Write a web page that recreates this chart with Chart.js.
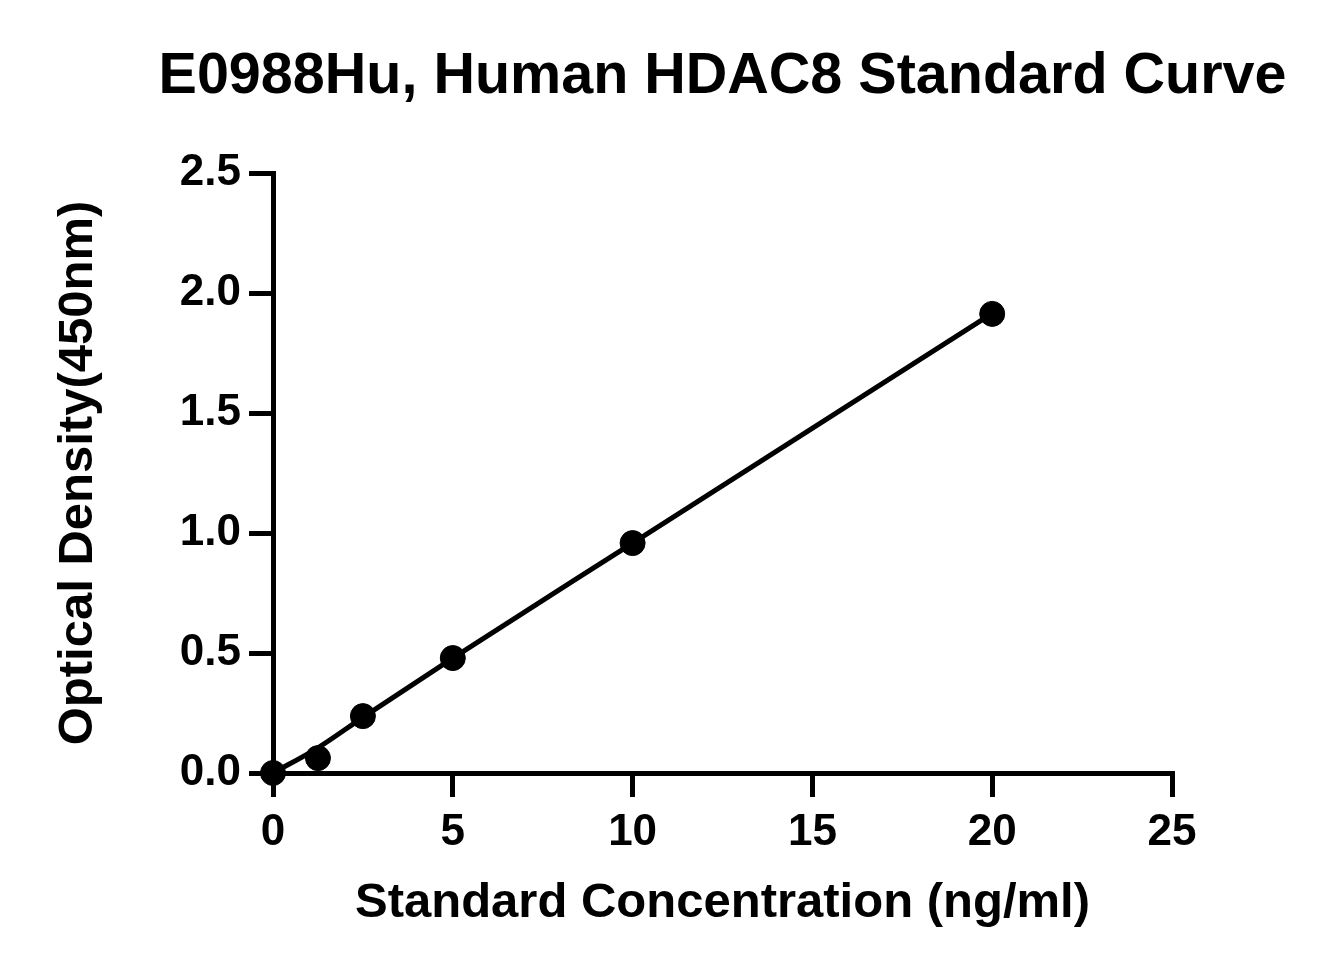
<!DOCTYPE html>
<html>
<head>
<meta charset="utf-8">
<script src="https://cdn.jsdelivr.net/npm/chart.js@4/dist/chart.umd.min.js"></script>
<style>
  html, body { margin: 0; padding: 0; background: #fff; }
  #wrap { width: 1332px; height: 975px; }
</style>
</head>
<body>
<div id="wrap"><canvas id="curveChart" width="1332" height="975"></canvas></div>
<script>
// standard points
const concentrations = [0, 1.25, 2.5, 5, 10, 20];
const odValues = [0.0, 0.062, 0.237, 0.479, 0.958, 1.913];
// fitted curve as it is drawn in the picture
const fitConc = [0, 1.25, 2.5, 5, 10, 20];
const fitOd = [0.0, 0.105, 0.232, 0.479, 0.958, 1.915];
const xTicks = [0, 5, 10, 15, 20, 25];
const yTicks = [0, 0.5, 1.0, 1.5, 2.0, 2.5];

const chartTitle = 'E0988Hu, Human HDAC8 Standard Curve';
const FONT = "'Liberation Sans', Arial, sans-serif";

// title centred over the plot area, like the original
const titlePlugin = {
    id: 'plotTitle',
    afterDraw(chart) {
        const c = chart.ctx;
        const area = chart.chartArea;
        c.save();
        c.fillStyle = '#000';
        c.font = 'bold 57.5px ' + FONT;
        c.textAlign = 'center';
        c.textBaseline = 'middle';
        c.fillText(chartTitle, (area.left + area.right) / 2, 77);
        c.restore();
    }
};

document.addEventListener("DOMContentLoaded", function() {
    const ctx = document.getElementById('curveChart').getContext('2d');

    const points = concentrations.map((c, i) => ({ x: c, y: odValues[i] }));
    const fit = fitConc.map((c, i) => ({ x: c, y: fitOd[i] }));

    new Chart(ctx, {
        type: 'scatter',
        data: {
            datasets: [
                {
                    label: 'Fit',
                    data: fit,
                    showLine: true,
                    borderColor: '#000',
                    borderWidth: 5,
                    pointRadius: 0,
                    cubicInterpolationMode: 'monotone',
                    clip: false
                },
                {
                    label: 'Standard',
                    data: points,
                    backgroundColor: '#000',
                    borderColor: '#000',
                    pointRadius: 12.5,
                    clip: false
                }
            ]
        },
        options: {
            responsive: false,
            animation: false,
            layout: { padding: { left: 45, right: 160, top: 173, bottom: 38 } },
            plugins: {
                legend: { display: false },
                tooltip: { enabled: false },
                title: { display: false }
            },
            scales: {
                x: {
                    type: 'linear',
                    min: 0, max: 25,
                    afterBuildTicks: s => { s.ticks = xTicks.map(v => ({ value: v })); },
                    border: { display: true, color: '#000', width: 5 },
                    grid: { drawOnChartArea: false, color: '#000', lineWidth: 5, tickLength: 24 },
                    ticks: {
                        color: '#000', padding: 9, maxRotation: 0,
                        font: { family: FONT, size: 44, weight: 'bold' },
                        callback: v => String(v)
                    },
                    title: {
                        display: true,
                        text: 'Standard Concentration (ng/ml)',
                        color: '#000',
                        font: { family: FONT, size: 49, weight: 'bold' },
                        padding: { top: 10, bottom: 4 }
                    },
                    afterFit: s => { s.height = 164; }
                },
                y: {
                    type: 'linear',
                    min: 0, max: 2.5,
                    afterBuildTicks: s => { s.ticks = yTicks.map(v => ({ value: v })); },
                    border: { display: true, color: '#000', width: 5 },
                    grid: { drawOnChartArea: false, color: '#000', lineWidth: 5, tickLength: 24 },
                    ticks: {
                        color: '#000', padding: 8,
                        font: { family: FONT, size: 44, weight: 'bold' },
                        callback: v => v.toFixed(1)
                    },
                    title: {
                        display: true,
                        text: 'Optical Density(450nm)',
                        color: '#000',
                        font: { family: FONT, size: 49, weight: 'bold' },
                        padding: { top: 4, bottom: 10 }
                    },
                    afterFit: s => { s.width = 228; }
                }
            }
        },
        plugins: [titlePlugin]
    });
});
</script>
</body>
</html>
